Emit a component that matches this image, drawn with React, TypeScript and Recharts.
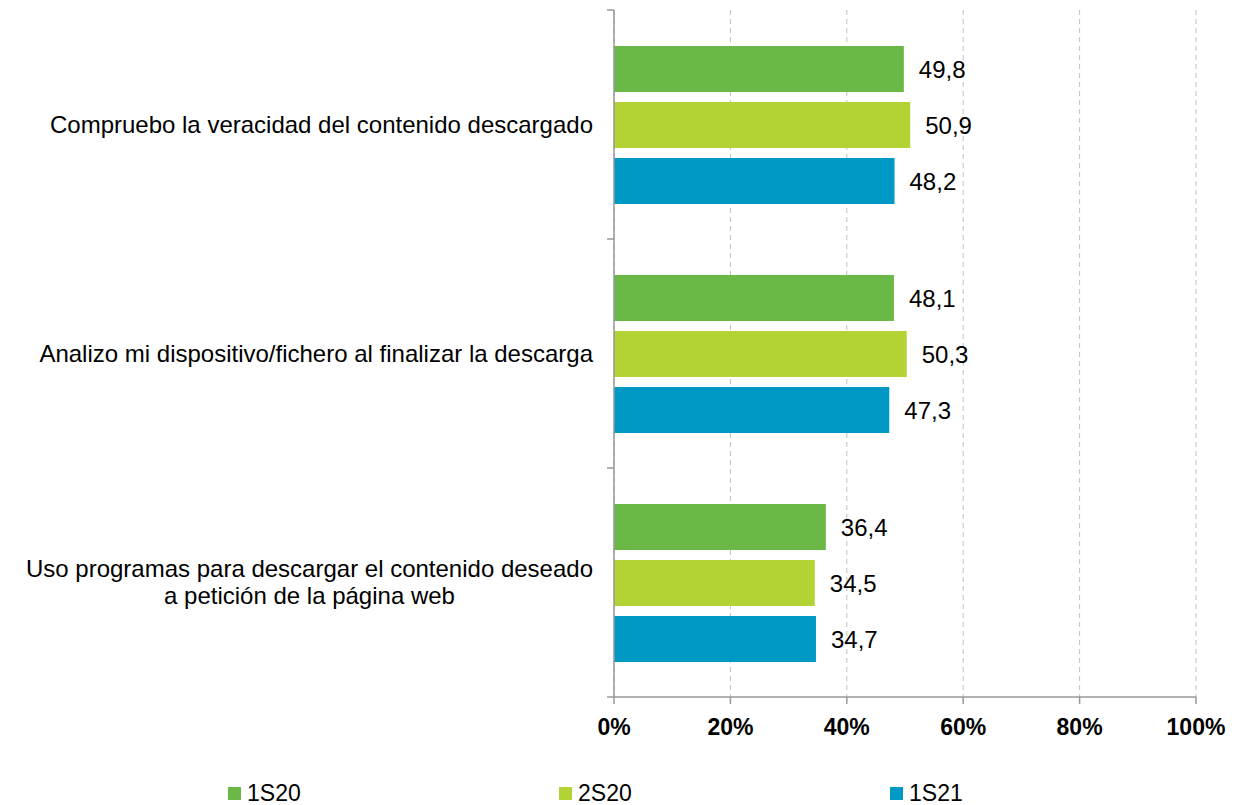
import React from 'react';
import { BarChart, Bar, XAxis, YAxis, CartesianGrid, LabelList, Legend } from 'recharts';

const categories = [
  'Compruebo la veracidad del contenido descargado',
  'Analizo mi dispositivo/fichero al finalizar la descarga',
  'Uso programas para descargar el contenido deseado\na petición de la página web',
];

const series1S20 = [49.8, 48.1, 36.4];
const series2S20 = [50.9, 50.3, 34.5];
const series1S21 = [48.2, 47.3, 34.7];

const seriesNames = ['1S20', '2S20', '1S21'];
const xTicks = [0, 20, 40, 60, 80, 100];

const COLORS = ['#6ab846', '#b3d234', '#0099c5'];
const FONT = '"Liberation Sans", Arial, sans-serif';
const AXIS_GRAY = '#999999';

const data = categories.map((name, i) => ({
  name,
  s1S20: series1S20[i],
  s2S20: series2S20[i],
  s1S21: series1S21[i],
}));

let ctx: CanvasRenderingContext2D | null = null;
function textWidth(t: string, size: number) {
  if (!ctx) ctx = document.createElement('canvas').getContext('2d');
  if (!ctx) return t.length * size * 0.5;
  ctx.font = `${size}px ${FONT}`;
  return ctx.measureText(t).width;
}

function CategoryTick(props: any) {
  const { x, y, payload, index, visibleTicksCount } = props;
  const half = payload.offset ?? 0;
  const lines = String(payload.value).split('\n');
  const blockW = Math.max(...lines.map((l) => textWidth(l, 24)));
  const cx = x - 21 - blockW / 2;
  return (
    <g>
      <line x1={x - 7} x2={x} y1={y - half} y2={y - half} stroke={AXIS_GRAY} strokeWidth={1.5} />
      {index === visibleTicksCount - 1 && (
        <line x1={x - 7} x2={x} y1={y + half} y2={y + half} stroke={AXIS_GRAY} strokeWidth={1.5} />
      )}
      <text textAnchor="middle" fontSize={24} fontFamily={FONT} fill="#000">
        {lines.map((l, i) => (
          <tspan key={i} x={cx} y={y + (i - (lines.length - 1) / 2) * 27} dy="0.35em">
            {l}
          </tspan>
        ))}
      </text>
    </g>
  );
}

const fmt = (v: any) => Number(v).toFixed(1).replace('.', ',');

function LegendContent() {
  return (
    <div style={{ display: 'flex', fontFamily: FONT, fontSize: 23, color: '#000' }}>
      {seriesNames.map((n, i) => (
        <div key={n} style={{ width: 331, display: 'flex', alignItems: 'center' }}>
          <span style={{ width: 13, height: 13, background: COLORS[i], marginRight: 6, display: 'inline-block' }} />
          <span style={{ lineHeight: '26px' }}>{n}</span>
        </div>
      ))}
    </div>
  );
}

export default function App() {
  return (
    <div style={{ position: 'absolute', left: 0, top: 0, width: 1250, height: 805, background: '#fff' }}>
      <BarChart
        width={1250}
        height={805}
        data={data}
        layout="vertical"
        margin={{ top: 10, right: 54, bottom: 0, left: 0 }}
        barSize={46}
        barGap={10}
      >
        <CartesianGrid horizontal={false} stroke="#c0c0c0" strokeDasharray="5 4" />
        <XAxis
          type="number"
          domain={[0, 100]}
          ticks={xTicks}
          tickFormatter={(v) => `${v}%`}
          height={108}
          tickSize={7}
          tickMargin={15}
          stroke={AXIS_GRAY}
          axisLine={{ stroke: AXIS_GRAY, strokeWidth: 1.5 }}
          tickLine={{ stroke: AXIS_GRAY, strokeWidth: 1.5 }}
          tick={{ fontSize: 23, fontWeight: 'bold', fill: '#000', fontFamily: FONT }}
          interval={0}
        />
        <YAxis
          type="category"
          dataKey="name"
          width={614}
          tickSize={0}
          tickMargin={0}
          tickLine={false}
          axisLine={{ stroke: AXIS_GRAY, strokeWidth: 1.5 }}
          tick={<CategoryTick />}
          interval={0}
        />
        <Legend
          verticalAlign="middle"
          align="center"
          content={<LegendContent />}
          wrapperStyle={{ position: 'absolute', top: 780, left: 228, width: 1000, height: 26 }}
        />
        <Bar dataKey="s1S20" name="1S20" fill={COLORS[0]} isAnimationActive={false}>
          <LabelList dataKey="s1S20" position="right" offset={15} formatter={fmt} fontSize={24} fill="#000" fontFamily={FONT} />
        </Bar>
        <Bar dataKey="s2S20" name="2S20" fill={COLORS[1]} isAnimationActive={false}>
          <LabelList dataKey="s2S20" position="right" offset={15} formatter={fmt} fontSize={24} fill="#000" fontFamily={FONT} />
        </Bar>
        <Bar dataKey="s1S21" name="1S21" fill={COLORS[2]} isAnimationActive={false}>
          <LabelList dataKey="s1S21" position="right" offset={15} formatter={fmt} fontSize={24} fill="#000" fontFamily={FONT} />
        </Bar>
      </BarChart>
    </div>
  );
}
